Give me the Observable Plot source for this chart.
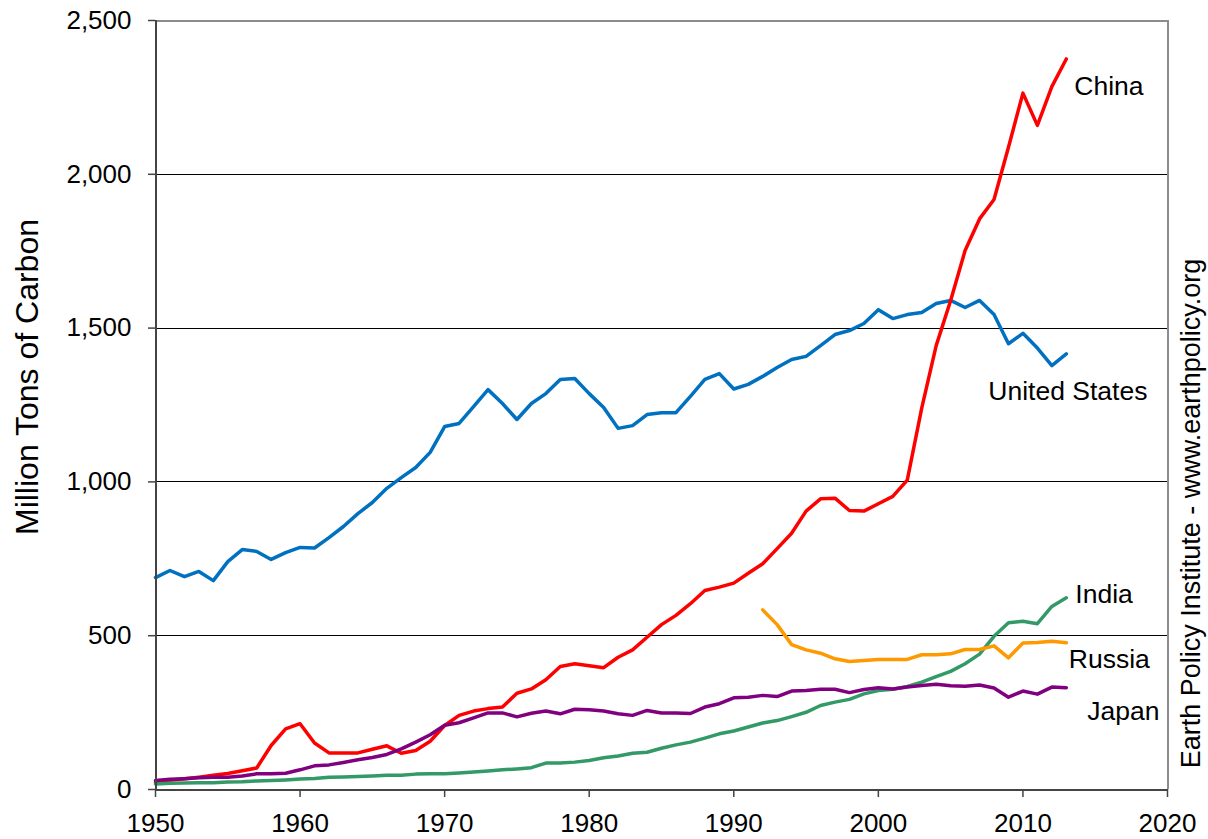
<!DOCTYPE html>
<html>
<head>
<meta charset="utf-8">
<script src="https://cdn.jsdelivr.net/npm/d3@7"></script>
<script src="https://cdn.jsdelivr.net/npm/@observablehq/plot@0.6"></script>
<style>
  html, body { margin: 0; padding: 0; background: white; }
  #chart { width: 1208px; height: 839px; }
</style>
</head>
<body>
<div id="chart"></div>
<script>
const years = [1950,1951,1952,1953,1954,1955,1956,1957,1958,1959,
  1960,1961,1962,1963,1964,1965,1966,1967,1968,1969,
  1970,1971,1972,1973,1974,1975,1976,1977,1978,1979,
  1980,1981,1982,1983,1984,1985,1986,1987,1988,1989,
  1990,1991,1992,1993,1994,1995,1996,1997,1998,1999,
  2000,2001,2002,2003,2004,2005,2006,2007,2008,2009,
  2010,2011,2012,2013];

const unitedStates = [689,712,692,709,679,741,780,774,748,770,
  787,785,819,855,897,933,979,1014,1047,1096,
  1180,1190,1245,1300,1255,1203,1255,1287,1333,1336,
  1287,1242,1174,1183,1219,1225,1225,1278,1333,1352,
  1302,1317,1343,1372,1398,1408,1443,1479,1492,1515,
  1560,1531,1544,1551,1580,1590,1567,1590,1544,1449,
  1483,1435,1378,1416];

const china = [22,30,35,40,46,52,61,70,143,197,
  214,151,119,119,119,131,142,118,127,157,
  208,241,255,263,268,313,327,357,400,409,
  402,396,430,454,495,536,566,604,647,658,
  671,703,734,783,833,905,945,947,907,905,
  929,953,1006,1240,1443,1590,1752,1855,1918,2088,
  2264,2159,2285,2375];

const japan = [29,33,35,38,40,40,44,51,51,53,
  64,77,80,88,97,104,114,132,154,178,
  209,217,233,249,249,236,248,255,246,261,
  259,255,246,241,257,249,249,247,268,279,
  298,300,306,302,320,322,326,326,315,325,
  331,327,333,338,342,337,336,340,330,300,
  320,310,333,331];

const india = [18,20,21,22,22,24,25,28,29,31,
  34,36,40,41,42,44,46,46,50,51,
  51,54,57,60,64,67,71,86,86,89,
  94,103,109,118,121,134,145,154,167,181,
  190,203,216,224,237,251,273,284,293,311,
  322,326,335,349,367,384,409,440,498,542,
  547,539,595,623];

const russiaYears = [1992,1993,1994,1995,1996,1997,1998,1999,
  2000,2001,2002,2003,2004,2005,2006,2007,2008,2009,
  2010,2011,2012,2013];
const russia = [584,536,471,454,443,425,416,419,
  423,423,423,438,438,441,455,455,467,428,
  476,478,482,477];

const countries = ["United States","China","India","Russia","Japan"];
const colors = ["#0070C0","#FF0000","#339966","#FF9900","#800080"];
const yTicks = [0,500,1000,1500,2000,2500];
const xTicks = [1950,1960,1970,1980,1990,2000,2010,2020];

const seriesValues = {
  "United States": [years, unitedStates],
  "China": [years, china],
  "India": [years, india],
  "Russia": [russiaYears, russia],
  "Japan": [years, japan]
};

const rows = [];
for (const c of countries) {
  const [ys, vs] = seriesValues[c];
  ys.forEach((y, i) => rows.push({country: c, year: y, value: vs[i]}));
}
const lastPoints = countries.map(c => {
  const [ys, vs] = seriesValues[c];
  return {country: c, year: ys[ys.length - 1], value: vs[vs.length - 1]};
});

// label offsets (pixels) from each series' last point
const labelOffsets = {
  "China": [8, 27.5],
  "United States": [-78, 37.6],
  "India": [9, -3.4],
  "Russia": [2.5, 16.7],
  "Japan": [21, 23.8]
};

const font = "'Liberation Sans', Arial, Helvetica, sans-serif";

const labelMarks = lastPoints.map(p => Plot.text([p], {
  x: "year", y: "value", text: "country",
  dx: labelOffsets[p.country][0], dy: labelOffsets[p.country][1],
  textAnchor: "start", lineAnchor: "middle",
  fontSize: 26.5, fill: "black"
}));

const chart = Plot.plot({
  width: 1208,
  height: 839,
  marginLeft: 155,
  marginRight: 41,
  marginTop: 20,
  marginBottom: 50,
  style: {fontFamily: font, fontSize: "26px", background: "white", overflow: "visible"},
  x: {domain: [1950, 2020], axis: null},
  y: {domain: [0, 2500], axis: null},
  color: {domain: countries, range: colors},
  marks: [
    Plot.ruleY(yTicks.filter(d => d > 0 && d < 2500), {stroke: "black", strokeWidth: 1, shapeRendering: "crispEdges"}),
    Plot.ruleY([2500], {stroke: "#8c8c8c", strokeWidth: 2, shapeRendering: "crispEdges"}),
    Plot.ruleX([2020], {stroke: "#8c8c8c", strokeWidth: 2, shapeRendering: "crispEdges"}),
    Plot.line(rows, {
      x: "year", y: "value", z: "country", stroke: "country",
      strokeWidth: 3.5, strokeLinejoin: "round", strokeLinecap: "round"
    }),
    Plot.ruleX([1950], {stroke: "#444", strokeWidth: 2, shapeRendering: "crispEdges"}),
    Plot.ruleY([0], {stroke: "#444", strokeWidth: 2, shapeRendering: "crispEdges"}),
    Plot.axisY({
      ticks: yTicks, tickFormat: d3.format(","), tickSize: 7, tickPadding: 17,
      fontSize: 26, stroke: "#444", fill: "black", strokeWidth: 1.5, label: null
    }),
    Plot.axisX({
      ticks: xTicks, tickFormat: d => String(d), tickSize: 8, tickPadding: 16,
      fontSize: 26, stroke: "#444", fill: "black", strokeWidth: 1.5, label: null
    }),
    ...labelMarks,
    Plot.text(["Million Tons of Carbon"], {
      text: d => d, frameAnchor: "left", rotate: -90, dx: -128, dy: -28,
      textAnchor: "middle", lineAnchor: "middle", fontSize: 32, fill: "black"
    }),
    Plot.text(["Earth Policy Institute - www.earthpolicy.org"], {
      text: d => d, frameAnchor: "right", rotate: -90, dx: 23.7, dy: 108.5,
      textAnchor: "middle", lineAnchor: "middle", fontSize: 27, fill: "black"
    })
  ]
});

document.getElementById("chart").appendChild(chart);
</script>
</body>
</html>
